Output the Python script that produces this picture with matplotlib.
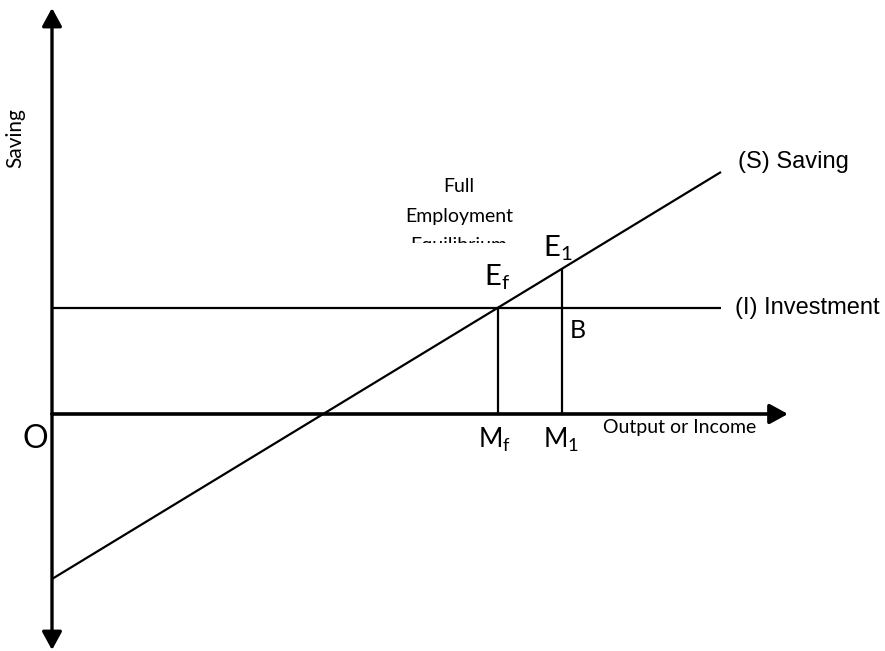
import matplotlib
matplotlib.use("Agg")
import matplotlib.pyplot as plt
from matplotlib.transforms import Bbox, TransformedBbox

plt.rcParams["mathtext.fontset"] = "custom"
plt.rcParams["mathtext.rm"] = "Lato"
plt.rcParams["mathtext.it"] = "Lato:italic"
plt.rcParams["mathtext.default"] = "rm"

# ---- data (units: 1 unit = 10 px, origin at O) ----
saving_x = [0.0, 66.9]          # saving schedule endpoints (x)
saving_y = [-16.5, 24.2]        # saving schedule endpoints (y)
investment_level = 10.6         # autonomous investment
investment_x = [0.0, 66.9]
mf_x = 44.6                     # full employment output
m1_x = 51.0                     # output M1
e1_y = 14.4                     # saving at M1

x_axis_end = 73.6
y_axis_top = 40.6
y_axis_bottom = -23.6

fig = plt.figure(figsize=(8.85, 6.51), dpi=100)
ax = fig.add_axes([0, 0, 1, 1])
ax.set_xlim(-5.2, 83.3)
ax.set_ylim(-23.7, 41.4)
ax.axis("off")

calibri = ["Lato", "DejaVu Sans"]
arial = ["Liberation Sans", "DejaVu Sans"]

# axes with arrows
astyle = "-|>,head_length=1.1,head_width=0.6"
for tip, lw in [((0, y_axis_top), 2.4), ((0, y_axis_bottom), 2.4),
                ((x_axis_end, 0), 2.6)]:
    ax.annotate("", xy=tip, xytext=(0, 0),
                arrowprops=dict(arrowstyle=astyle, lw=lw, color="black",
                                mutation_scale=10, shrinkA=0, shrinkB=0))

# saving and investment lines
ax.plot(saving_x, saving_y, color="black", lw=1.6, solid_capstyle="butt")
ax.plot(investment_x, [investment_level, investment_level], color="black",
        lw=1.6, solid_capstyle="butt")
ax.plot([mf_x, mf_x], [0, investment_level], color="black", lw=1.6)
ax.plot([m1_x, m1_x], [0, e1_y], color="black", lw=1.6)

# labels
ax.text(-3.7, 27.6, "Saving", rotation=90, ha="center", va="center",
        fontsize=15, family=calibri)
ax.text(68.6, 25.2, "(S) Saving", ha="left", va="center", fontsize=17,
        family=arial)
ax.text(68.3, 10.6, "(I) Investment", ha="left", va="center", fontsize=17,
        family=arial)
ax.text(40.7, 22.2, "Full", ha="center", va="baseline", fontsize=14,
        family=calibri)
ax.text(40.7, 19.2, "Employment", ha="center", va="baseline", fontsize=14,
        family=calibri)
t = ax.text(40.7, 16.3, "Equilibrium", ha="center", va="baseline",
            fontsize=14, family=calibri)
t.set_clip_box(TransformedBbox(Bbox([[30, 17.1], [52, 30]]), ax.transData))
t.set_clip_on(True)

ax.text(43.2, 12.8, r"E$_{\mathregular{f}}$", ha="left", va="baseline",
        fontsize=21, family=calibri)
ax.text(49.1, 15.7, r"E$_{\mathregular{1}}$", ha="left", va="baseline",
        fontsize=21, family=calibri)
ax.text(51.8, 7.6, "B", ha="left", va="baseline", fontsize=18, family=calibri)
ax.text(-2.9, -3.4, "O", ha="left", va="baseline", fontsize=23, family=calibri)
ax.text(42.6, -3.4, r"M$_{\mathregular{f}}$", ha="left", va="baseline",
        fontsize=19, family=calibri)
ax.text(49.1, -3.4, r"M$_{\mathregular{1}}$", ha="left", va="baseline",
        fontsize=19, family=calibri)
ax.text(55.1, -1.9, "Output or Income", ha="left", va="baseline",
        fontsize=14, family=calibri)

fig.savefig("out.png", dpi=100)
